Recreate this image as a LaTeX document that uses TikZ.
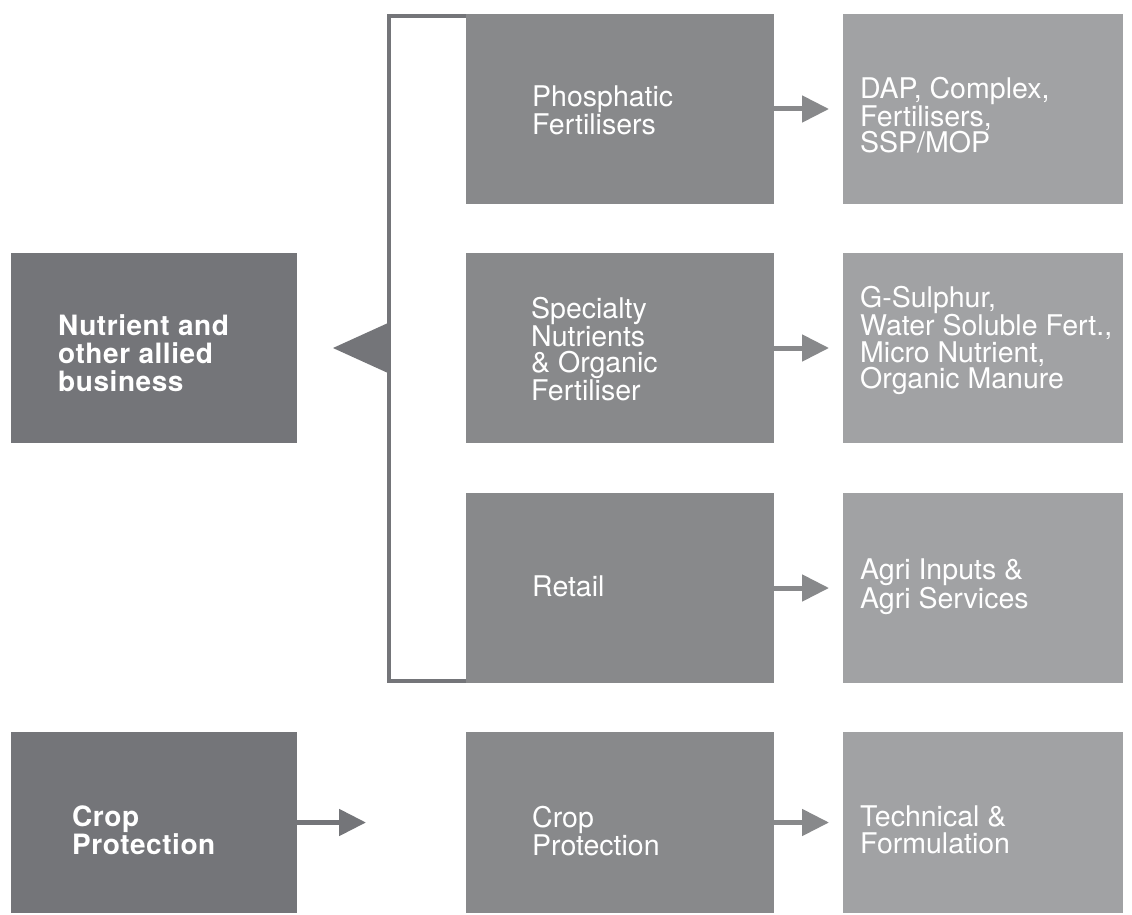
\documentclass[tikz,border=0pt]{standalone}
\usepackage{fontspec}
\setmainfont{TeX Gyre Heros}
\newfontfamily\boldface{TeX Gyre Heros}[LetterSpace=2]
\usetikzlibrary{arrows.meta}
\definecolor{cDark}{HTML}{747579}
\definecolor{cMid}{HTML}{88898B}
\definecolor{cLight}{HTML}{A1A2A4}
\begin{document}
\begin{tikzpicture}[x=1pt,y=-1pt,
 box/.style={anchor=north west, inner sep=0pt, outer sep=0pt, minimum height=190pt, draw=none},
 boxL/.style={box, fill=cDark, minimum width=286pt},
 boxM/.style={box, fill=cMid, minimum width=308pt},
 boxR/.style={box, fill=cLight, minimum width=280pt},
 txt/.style={text=white, align=left, anchor=north west, inner sep=0pt, font=\fontsize{28.5}{26.5}\selectfont},
 txtb/.style={txt, font=\boldface\bfseries\fontsize{28}{28}\selectfont},
 arr/.style={line width=5pt, draw=cMid, -{Triangle[length=27pt,width=26pt]}},
]
\useasboundingbox[fill=white] (0,0) rectangle (1132,915);
% boxes
\node[boxL] (L1) at (11,253) {};
\node[boxL, minimum height=181pt] (L2) at (11,732) {};
\node[boxM] (M1) at (466,14) {};
\node[boxM] (M2) at (466,253) {};
\node[boxM] (M3) at (466,493) {};
\node[boxM, minimum height=181pt] (M4) at (466,732) {};
\node[boxR] (R1) at (843,14) {};
\node[boxR] (R2) at (843,253) {};
\node[boxR] (R3) at (843,493) {};
\node[boxR, minimum height=181pt] (R4) at (843,732) {};
% bracket and pointer
\draw[cDark, line width=4.5pt] ([yshift=-2.25pt]M1.north west) -- ++(-77,0) -- ++(0,664.5) -- ([yshift=2.25pt]M3.south west);
\fill[cDark] (333,348) -- (388,323) -- (388,373) -- cycle;
% arrows
\draw[arr] (M1.east) -- ([xshift=-14pt]R1.west);
\draw[arr] (M2.east) -- ([xshift=-14pt]R2.west);
\draw[arr] (M3.east) -- ([xshift=-14pt]R3.west);
\draw[arr] (M4.east) -- ([xshift=-14pt]R4.west);
\coordinate (cpend) at (366,822.5);
\draw[arr, draw=cDark] (L2.east) -- (cpend);
% texts
\node[txtb] (tL1) at (58,314) {Nutrient and\\other allied\\business};
\node[txtb] (tL2) at (72,806) {Crop\\Protection};
\node[txt] (tM1) at (532,86) {Phosphatic\\Fertilisers};
\node[txt] (tM2) at (531,297) {Specialty\\Nutrients\\\& Organic\\Fertiliser};
\node[txt] (tM3) at (532,576) {Retail};
\node[txt] (tM4) at (532,806) {Crop\\Protection};
\node[txt] (tR1) at (860,77) {DAP, Complex,\\Fertilisers,\\SSP/MOP};
\node[txt] (tR2) at (860,286) {G-Sulphur,\\Water Soluble Fert.,\\Micro Nutrient,\\Organic Manure};
\node[txt] (tR3) at (860,559) {Agri Inputs \&\\Agri Services};
\node[txt] (tR4) at (860,806) {Technical \&\\Formulation};
\end{tikzpicture}
\end{document}
